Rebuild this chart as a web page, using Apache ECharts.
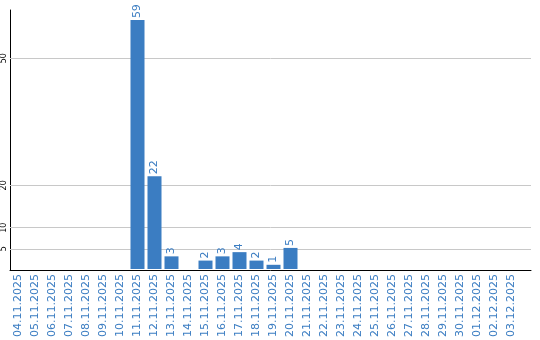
<!DOCTYPE html>
<html><head><meta charset="utf-8">
<script src="https://cdn.jsdelivr.net/npm/echarts@6/dist/echarts.min.js"></script>
<style>html,body{margin:0;padding:0;background:#fff}#c{width:540px;height:340px}</style>
</head><body><div id="c"></div>
<script>
const categories = ["04.11.2025","05.11.2025","06.11.2025","07.11.2025","08.11.2025","09.11.2025","10.11.2025","11.11.2025","12.11.2025","13.11.2025","14.11.2025","15.11.2025","16.11.2025","17.11.2025","18.11.2025","19.11.2025","20.11.2025","21.11.2025","22.11.2025","23.11.2025","24.11.2025","25.11.2025","26.11.2025","27.11.2025","28.11.2025","29.11.2025","30.11.2025","01.12.2025","02.12.2025","03.12.2025"];
const values = [0,0,0,0,0,0,0,59,22,3,0,2,3,4,2,1,5,0,0,0,0,0,0,0,0,0,0,0,0,0];
const yTicks = [5,10,20,50];
const yMax = 61.4;

const blue = '#3b7dc2';
const chart = echarts.init(document.getElementById('c'), null, {renderer:'canvas'});
chart.setOption({
  animation:false,
  grid:[
    {left:10, right:9, top:10, bottom:70},
    {left:10, width:510, top:10, bottom:70}
  ],
  xAxis:[
    {gridIndex:0, type:'value', min:0, max:1, axisLine:{show:true, onZero:false, lineStyle:{color:'#000', width:1}}, axisTick:{show:false}, axisLabel:{show:false}, splitLine:{show:false}},
    {gridIndex:1, type:'category', data:categories, axisLine:{show:false}, axisTick:{show:false}, splitLine:{show:false},
     axisLabel:{interval:0, rotate:90, margin:5, color:blue, fontFamily:'DejaVu Sans', fontSize:11}}
  ],
  yAxis:[
    {gridIndex:0, type:'value', min:0, max:yMax, axisLine:{show:true, lineStyle:{color:'#000', width:1}}, axisTick:{show:false}, splitLine:{show:false},
     axisLabel:{show:true, rotate:90, margin:2, color:'#000', fontFamily:'DejaVu Sans', fontSize:8,
       customValues: yTicks, formatter:v=>String(v)}},
    {gridIndex:1, type:'value', min:0, max:yMax, show:false}
  ],
  series:[
    {type:'line', xAxisIndex:0, yAxisIndex:0, data:[], z:1,
     markLine:{silent:true, symbol:['none','none'], label:{show:false}, animation:false,
       lineStyle:{color:'#c8c8c8', type:'solid', width:1},
       data: yTicks.map(v=>({yAxis:v}))}},
    {type:'bar', xAxisIndex:1, yAxisIndex:1, data:values.map(v=>v===0?null:v), barWidth:14, z:5,
     itemStyle:{color:blue},
     label:{show:true, position:'top', rotate:90, align:'left', verticalAlign:'middle', distance:2,
       color:blue, fontFamily:'DejaVu Sans', fontSize:11}}
  ]
});
</script></body></html>
